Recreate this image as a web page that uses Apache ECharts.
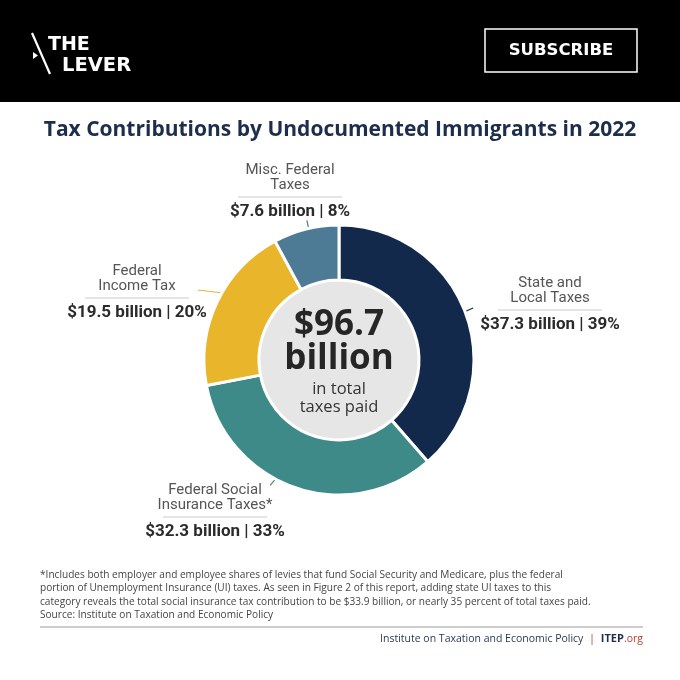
<!DOCTYPE html>
<html>
<head>
<meta charset="utf-8">
<script src="https://cdn.jsdelivr.net/npm/echarts@6/dist/echarts.min.js"></script>
<style>html,body{margin:0;padding:0;background:#fff}#c{width:680px;height:680px}</style>
</head>
<body>
<div id="c"></div>
<script>
// ---- data ----
var categories = ['State and\nLocal Taxes', 'Federal Social\nInsurance Taxes*', 'Federal\nIncome Tax', 'Misc. Federal\nTaxes'];
var valuesBillion = [37.3, 32.3, 19.5, 7.6];
var percents = [39, 33, 20, 8];
var totalBillion = 96.7;
var titleText = 'Tax Contributions by Undocumented Immigrants in 2022';
var footnoteLines = [
  '*Includes both employer and employee shares of levies that fund Social Security and Medicare, plus the federal',
  'portion of Unemployment Insurance (UI) taxes. As seen in Figure 2 of this report, adding state UI taxes to this',
  'category reveals the total social insurance tax contribution to be $33.9 billion, or nearly 35 percent of total taxes paid.',
  'Source: Institute on Taxation and Economic Policy'
];

// ---- styles / layout ----
var colors = ['#13294b', '#3e8a88', '#e8b52b', '#4d7b95'];
var CX = 339, CY = 360, R_IN = 80, R_OUT = 135;
var labelPos = [[550, 306], [215, 513], [137, 294], [290, 193]];
var tickAngle = [69, 208, 300, 347];          // degrees clockwise from 12 o'clock
var tickVec = [[9, -4], [-6, 7], [-25, -3], [-2, -9]];

var chart = echarts.init(document.getElementById('c'), null, {renderer: 'canvas'});

var pieData = categories.map(function (c, i) {
  return {name: c, value: valuesBillion[i], itemStyle: {color: colors[i]}, labelLine: {lineStyle: {color: colors[i]}}};
});

var graphics = [
  {type: 'rect', shape: {x: 0, y: 0, width: 680, height: 102}, style: {fill: '#000'}},
  {type: 'line', shape: {x1: 32, y1: 33, x2: 50, y2: 74}, style: {stroke: '#fff', lineWidth: 2.2}},
  {type: 'polygon', shape: {points: [[33, 52], [38, 55.5], [33, 59]]}, style: {fill: '#fff'}},
  {type: 'text', x: 48, y: 45, style: {text: 'THE', fill: '#fff', font: 'bold 19px "DejaVu Sans", sans-serif', textVerticalAlign: 'middle'}},
  {type: 'text', x: 62, y: 66, style: {text: 'LEVER', fill: '#fff', font: 'bold 19.5px "DejaVu Sans", sans-serif', textVerticalAlign: 'middle'}},
  {type: 'rect', shape: {x: 485, y: 29, width: 152, height: 43}, style: {fill: 'none', stroke: '#fff', lineWidth: 1.5}},
  {type: 'text', x: 561, y: 50.5, style: {text: 'SUBSCRIBE', fill: '#fff', font: 'bold 16.5px "DejaVu Sans", sans-serif', textAlign: 'center', textVerticalAlign: 'middle'}},
  {type: 'text', x: 340, y: 130, style: {text: titleText, fill: '#1d2d4c', font: 'bold 21px "Open Sans", sans-serif', textAlign: 'center', textVerticalAlign: 'middle'}},
  {type: 'line', shape: {x1: 40, y1: 627, x2: 643, y2: 627}, style: {stroke: '#9a9a9a', lineWidth: 1}},
  {type: 'text', x: 643, y: 639, style: {
    text: '{a|Institute on Taxation and Economic Policy}{s|  |  }{b|ITEP}{c|.org}',
    textAlign: 'right', textVerticalAlign: 'middle',
    rich: {
      a: {fontFamily: 'Open Sans', fontSize: 10.5, fill: '#2b3a55'},
      s: {fontFamily: 'Open Sans', fontSize: 11, fill: '#c0392b'},
      b: {fontFamily: 'Open Sans', fontSize: 11, fontWeight: 'bold', fill: '#1d2d4c'},
      c: {fontFamily: 'Open Sans', fontSize: 10.5, fill: '#c0392b'}
    }
  }}
];
footnoteLines.forEach(function (t, i) {
  graphics.push({type: 'text', x: 40, y: 575 + i * 13.5, style: {text: t, fill: '#444', font: '10.1px "Open Sans", sans-serif', textVerticalAlign: 'middle'}});
});

var option = {
  animation: false,
  backgroundColor: '#fff',
  graphic: graphics,
  series: [
    {
      type: 'pie',
      center: [CX, CY],
      radius: [0, R_IN + 1],
      silent: true,
      label: {
        show: true, position: 'center',
        formatter: function () {
          return '{big|$' + totalBillion.toFixed(1) + '}\n{big|billion}\n{small|in total}\n{small|taxes paid}';
        },
        rich: {
          big: {fontFamily: 'Open Sans', fontSize: 35, fontWeight: 'bold', color: '#262626', lineHeight: 34},
          small: {fontFamily: 'Open Sans', fontSize: 16.5, color: '#333', lineHeight: 18, padding: [8, 0, 0, 0]}
        }
      },
      labelLine: {show: false},
      data: [{value: 1, name: 'total', itemStyle: {color: '#e6e6e6'}}]
    },
    {
      type: 'pie',
      center: [CX, CY],
      radius: [R_IN, R_OUT],
      startAngle: 90,
      clockwise: true,
      avoidLabelOverlap: false,
      itemStyle: {borderColor: '#fff', borderWidth: 3},
      label: {
        show: true,
        position: 'outside',
        formatter: function (p) {
          var i = p.dataIndex;
          var lines = categories[i].split('\n').map(function (l) { return '{name|' + l + '}'; }).join('\n');
          return lines + '\n{hr|}\n{val|$' + valuesBillion[i].toFixed(1) + ' billion | ' + percents[i] + '%}';
        },
        rich: {
          name: {fontFamily: 'Roboto', fontSize: 15, color: '#555', lineHeight: 15, align: 'center'},
          hr: {height: 0, width: 104, borderColor: '#dcdcdc', borderWidth: 1, lineHeight: 8, align: 'center'},
          val: {fontFamily: 'Roboto', fontSize: 17, fontWeight: 'bold', color: '#2b2b2b', lineHeight: 22, align: 'center'}
        }
      },
      labelLine: {show: true, length: 10, length2: 0, lineStyle: {width: 1.2}},
      labelLayout: function (params) {
        var i = params.dataIndex;
        var p = labelPos[i];
        var a = tickAngle[i] * Math.PI / 180;
        var sx = CX + (R_OUT - 1) * Math.sin(a), sy = CY - (R_OUT - 1) * Math.cos(a);
        return {
          x: p[0], y: p[1], align: 'center', verticalAlign: 'middle',
          labelLinePoints: [[sx, sy], [sx + tickVec[i][0], sy + tickVec[i][1]]]
        };
      },
      data: pieData
    }
  ]
};
chart.setOption(option);
</script>
</body>
</html>
